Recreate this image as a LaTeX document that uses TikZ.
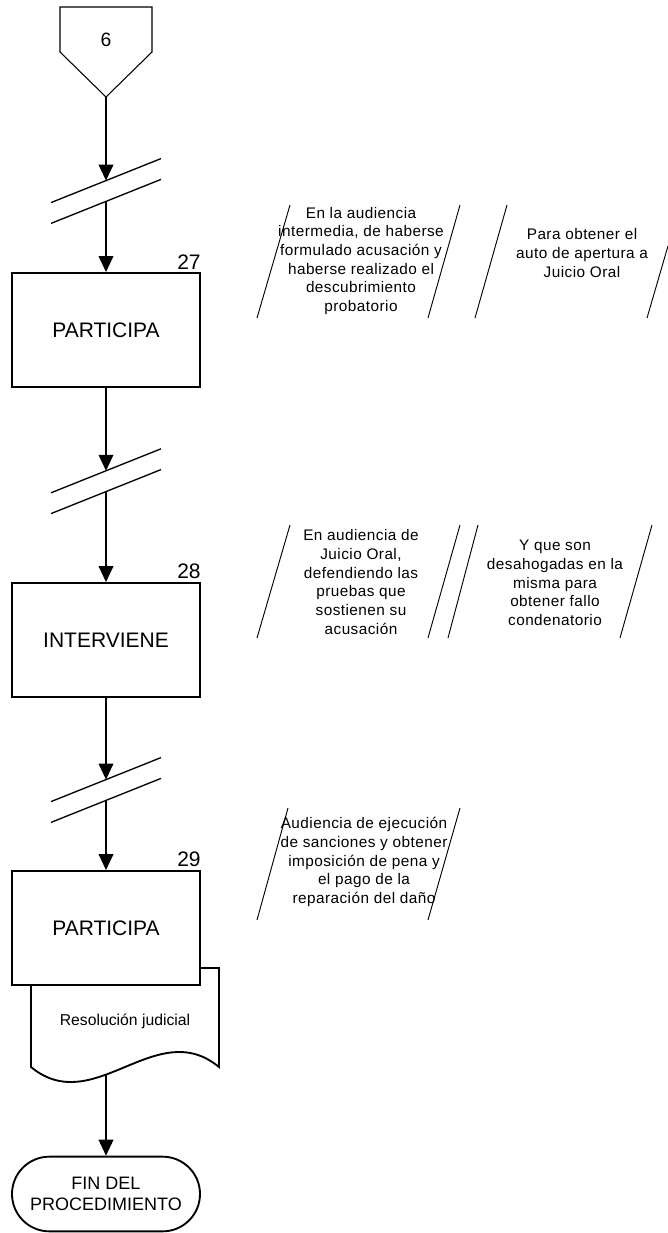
\documentclass[tikz,border=0pt]{standalone}
\usepackage{fontspec}
\setmainfont{Liberation Sans}
\newfontfamily\notefont[LetterSpace=3]{Liberation Sans}
\usetikzlibrary{arrows.meta, positioning}
\tikzset{
  procbox/.style={rectangle, draw=black, line width=1.4pt, fill=white,
                  minimum width=141pt, minimum height=85.5pt,
                  text centered, font=\fontsize{15.75}{18}\selectfont},
  stepnum/.style={inner sep=0pt, font=\fontsize{15.75}{18}\selectfont},
  note/.style={align=center, inner sep=0pt, font=\notefont\fontsize{11.5}{14}\selectfont},
  noteline/.style={line width=0.7pt},
  breakline/.style={line width=1pt},
  flowarr/.style={-{Triangle[length=12pt, width=11pt]}, line width=1.2pt},
  endbox/.style={rectangle, draw=black, line width=1.4pt, rounded corners=28pt,
                 minimum width=141pt, minimum height=56pt, align=center,
                 font=\fontsize{13.5}{15.75}\selectfont}
}

\begin{document}
\begin{tikzpicture}[x=0.75pt, y=-0.75pt]
  \fill[white] (0,0) rectangle (668,1233);
  \useasboundingbox (0,0) rectangle (668,1233);

  % Off-page connector
  \draw[line width=0.8pt] (60,7) -- (152,7) -- (152,52) -- (106,97) -- (60,52) -- cycle;
  \node[font=\fontsize{14.5}{16}\selectfont] (off6) at (106,40) {6};
  \coordinate (off6tip) at (106,97);

  % Breaks
  \coordinate (b1a) at (106,180.6);
  \coordinate (b1b) at (106,201.4);
  \coordinate (b2a) at (106,470.8);
  \coordinate (b2b) at (106,491.6);
  \coordinate (b3a) at (106,779.6);
  \coordinate (b3b) at (106,800.4);
  \foreach \b in {b1a,b1b,b2a,b2b,b3a,b3b}
    \draw[breakline] (\b) ++(-55,22) -- ++(110,-44);

  % Steps
  \node[procbox] (p27) at (106,330) {PARTICIPA};
  \node[stepnum, above left=2pt and 0pt of p27.north east] (n27) {27};
  \node[procbox] (p28) at (106,640) {INTERVIENE};
  \node[stepnum, above left=2pt and 0pt of p28.north east] (n28) {28};

  % Document behind step 29
  \draw[line width=1.4pt, fill=white] (31,968) -- (219,968) -- (219,1067)
    .. controls (156,1015) and (94,1119) .. (31,1067) -- cycle;
  \node[procbox] (p29) at (106,928) {PARTICIPA};
  \node[stepnum, above left=2pt and 0pt of p29.north east] (n29) {29};
  \node[font=\fontsize{11.8}{14}\selectfont] (doc) at (125,1021) {Resolución judicial};
  \coordinate (docbot) at (106,1075);

  % End
  \node[endbox] (fin) at (106,1194) {FIN DEL\\PROCEDIMIENTO};

  % Notes
  \draw[noteline] (290,205) -- (257,318);
  \draw[noteline] (460,205) -- (428,318);
  \draw[noteline] (507,205) -- (475,318);
  \draw[noteline] (668,246) -- (647,318);
  \node[note] (t27a) at (361,261) {En la audiencia\\intermedia, de haberse\\formulado acusación y\\haberse realizado el\\descubrimiento\\probatorio};
  \node[note] (t27b) at (582,253) {Para obtener el\\auto de apertura a\\Juicio Oral};

  \draw[noteline] (290,525) -- (257,638);
  \draw[noteline] (460,525) -- (428,638);
  \draw[noteline] (478,525) -- (448,638);
  \draw[noteline] (652,525) -- (620,638);
  \node[note] (t28a) at (361,582) {En audiencia de\\Juicio Oral,\\defendiendo las\\pruebas que\\sostienen su\\acusación};
  \node[note] (t28b) at (555,583) {Y que son\\desahogadas en la\\misma para\\obtener fallo\\condenatorio};

  \draw[noteline] (288,808) -- (257,920);
  \draw[noteline] (460,808) -- (428,920);
  \node[note] (t29a) at (364,862) {Audiencia de ejecución\\de sanciones y obtener\\imposición de pena y\\el pago de la\\reparación del daño};

  % Arrows
  \draw[flowarr] (off6tip) -- (b1a);
  \draw[flowarr] (b1b) -- (p27);
  \draw[flowarr] (p27) -- (b2a);
  \draw[flowarr] (b2b) -- (p28);
  \draw[flowarr] (p28) -- (b3a);
  \draw[flowarr] (b3b) -- (p29);
  \draw[flowarr] (docbot) -- (fin);

\end{tikzpicture}
\end{document}
